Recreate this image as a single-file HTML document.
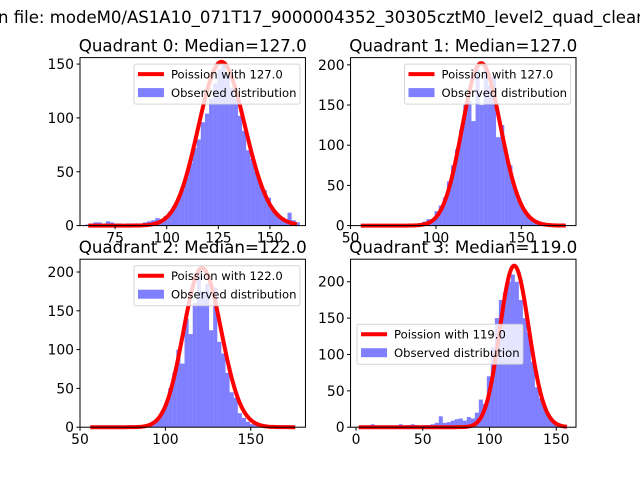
<!DOCTYPE html>
<html><head><meta charset="utf-8"><style>
body{margin:0;background:#fff}
svg{display:block;font-family:"DejaVu Sans","Liberation Sans",sans-serif}
</style></head><body>
<svg id="chart" width="640" height="480" viewBox="0 0 640 480" xmlns="http://www.w3.org/2000/svg">
<text x="-2" y="23" font-size="16.55" fill="#000">n file: modeM0/AS1A10_071T17_9000004352_30305cztM0_level2_quad_clean</text>
</svg>
<script>
// ---- data ----
const quadrantNames = ["Quadrant 0: Median=127.0","Quadrant 1: Median=127.0","Quadrant 2: Median=122.0","Quadrant 3: Median=119.0"];
const poissonMeans = [127, 127, 122, 119];
const poissonPeaks = [152, 202, 205, 222];
const curveStart = [62, 56, 56, 2];
const curveEnd = [163, 176, 176, 158];
const binStarts = [60.5, 56, 56, 2];
const binWidths = [2, 2.4, 2.4, 3];
const countsQ0 = [1,2,3,3,2,4,3,2,2,1,2,2,2,2,3,4,5,7,6,9,13,18,25,33,45,58,72,80,96,104,118,132,145,150,140,128,118,102,88,70,62,50,40,33,26,16,12,8,5,12,5,3];
const countsQ1 = [1,1,0,1,1,1,0,1,1,1,1,2,1,2,3,5,8,6,18,25,35,55,75,95,120,150,155,130,195,150,200,175,185,110,125,90,75,48,32,22,15,10,6,4,2,1,1,1,0,0];
const countsQ2 = [0,0,1,0,0,0,2,1,0,1,1,1,2,3,4,8,12,20,30,50,70,100,82,140,120,160,205,175,185,125,180,110,95,70,45,38,18,12,7,4,3,2,1,1,0,0,0,0,0,0];
const countsQ3 = [1,2,2,4,2,1,2,1,2,2,4,2,3,4,3,2,3,3,4,6,15,6,7,9,11,12,9,14,12,20,38,32,70,110,150,175,185,200,210,200,175,150,130,90,55,40,30,18,8,4,2,1];
const allCounts = [countsQ0, countsQ1, countsQ2, countsQ3];
const xLimits = [[58,167.2],[50,182],[50,182],[-4.1,164.8]];
const yMax = [156, 209, 216.5, 231];
const xTicks = [[75,100,125,150],[50,100,150],[50,100,150],[0,50,100,150]];
const yTicks = [[0,50,100,150],[0,50,100,150,200],[0,50,100,150,200],[0,50,100,150,200]];
const legendLabels = ["Poission with 127.0","Poission with 127.0","Poission with 122.0","Poission with 119.0"];

const NS = "http://www.w3.org/2000/svg";
const svg = document.getElementById("chart");
function mk(tag, attrs, parent){
  const e = document.createElementNS(NS, tag);
  for (const k in attrs) e.setAttribute(k, attrs[k]);
  (parent||svg).appendChild(e);
  return e;
}
function lnFact(n){let s=0;for(let i=2;i<=n;i++)s+=Math.log(i);return s;}
function pmf(k,m){return Math.exp(k*Math.log(m)-m-lnFact(k));}

const axW = 225.45, axH = 168;
const axL = [80, 350.55, 80, 350.55];
const axT = [57.6, 57.6, 259.2, 259.2];

for (let q=0;q<4;q++){
  const L=axL[q], T=axT[q], B=T+axH, R=L+axW;
  const [x0,x1]=xLimits[q];
  const sx = v => L + (v-x0)/(x1-x0)*axW;
  const sy = v => B - v/yMax[q]*axH;
  const g = mk("g",{});
  
  
  const counts = allCounts[q];
  for (let i=0;i<counts.length;i++){
    const a = binStarts[q]+i*binWidths[q], b=a+binWidths[q];
    const r = mk("rect",{x:sx(a),y:sy(counts[i]),width:sx(b)-sx(a),height:B-sy(counts[i]),fill:"#0000ff","fill-opacity":0.5},g);
    
    
  }
  const m = poissonMeans[q], mode=Math.floor(m), pm=pmf(mode,m);
  let d="";
  for (let k=curveStart[q];k<=curveEnd[q];k++){
    const v = poissonPeaks[q]*pmf(k,m)/pm;
    d += (d?"L":"M")+sx(k).toFixed(2)+","+sy(v).toFixed(2);
  }
  const p = mk("path",{d:d,fill:"none",stroke:"#ff0000","stroke-width":4,"stroke-linejoin":"round"},g);
  
  
  const fr = mk("rect",{x:L,y:T,width:axW,height:axH,fill:"none",stroke:"#000","stroke-width":1},g);
  
  
  xTicks[q].forEach(t=>{
    mk("line",{x1:sx(t),x2:sx(t),y1:B,y2:B+3.5,stroke:"#000"},g);
    const tx = mk("text",{x:sx(t),y:B+17,"font-size":13.9,"text-anchor":"middle"},g);
    tx.textContent=t;
    
    
  });
  yTicks[q].forEach(t=>{
    mk("line",{x1:L-3.5,x2:L,y1:sy(t),y2:sy(t),stroke:"#000"},g);
    const tx = mk("text",{x:L-6,y:sy(t)+5,"font-size":13.9,"text-anchor":"end"},g);
    tx.textContent=t;
    
    
  });
  const ti = mk("text",{x:L+axW/2,y:T-6,"font-size":16.7,"text-anchor":"middle"},g);
  ti.textContent = quadrantNames[q];
  
  
  const lw=166, lh=40;
  let lx = R-5.5-lw, ly = T+6.5;
  if (q===3){ lx = L+6.5; ly = T+65; }
  const lg = mk("g",{},g);
  
  
  mk("rect",{x:lx,y:ly,width:lw,height:lh,rx:2,fill:"#fff","fill-opacity":0.8,stroke:"#cccccc","stroke-opacity":0.8},lg);
  mk("line",{x1:lx+4,x2:lx+30,y1:ly+10,y2:ly+10,stroke:"#ff0000","stroke-width":4},lg);
  const t1 = mk("text",{x:lx+37,y:ly+14.5,"font-size":11.6},lg);
  t1.textContent = legendLabels[q];
  
  
  mk("rect",{x:lx+4,y:ly+24,width:26,height:9,fill:"#0000ff","fill-opacity":0.5},lg);
  const t2 = mk("text",{x:lx+37,y:ly+33,"font-size":11.6},lg);
  t2.textContent = "Observed distribution";
  
  
}
</script>
</body></html>
